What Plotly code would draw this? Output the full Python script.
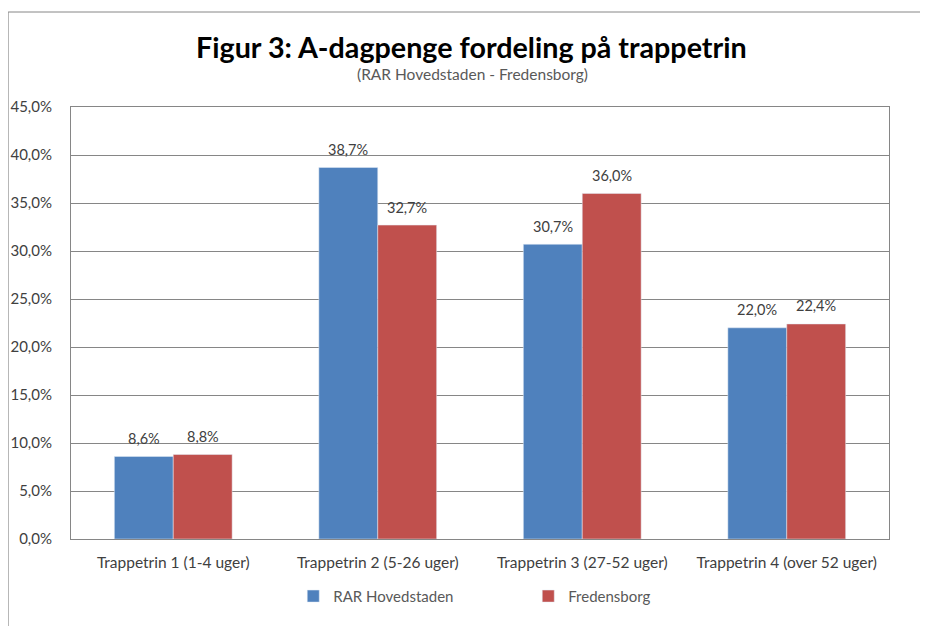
import plotly.graph_objects as go

categories = ["Trappetrin 1 (1-4 uger)", "Trappetrin 2 (5-26 uger)",
              "Trappetrin 3 (27-52 uger)", "Trappetrin 4 (over 52 uger)"]
rar_values = [8.6, 38.7, 30.7, 22.0]
fred_values = [8.8, 32.7, 36.0, 22.4]
series_names = ["RAR Hovedstaden", "Fredensborg"]
ytick_vals = [0, 5, 10, 15, 20, 25, 30, 35, 40, 45]
ytick_labels = ["0,0%", "5,0%", "10,0%", "15,0%", "20,0%", "25,0%",
                "30,0%", "35,0%", "40,0%", "45,0%"]

def fmt(v):
    return f"{v:.1f}".replace(".", ",") + "%"

FONT = "Lato"
TXT = "#404040"
BLUE = "#4F81BD"
RED = "#C0504D"

fig = go.Figure()
fig.add_trace(go.Bar(x=categories, y=rar_values, name=series_names[0],
                     marker=dict(color=BLUE)))
fig.add_trace(go.Bar(x=categories, y=fred_values, name=series_names[1],
                     marker=dict(color=RED)))

# value labels placed with the axis scales (category + value), shifted in pixels
annotations = []
for vals, dx in ((rar_values, -29.5), (fred_values, 29.5)):
    for c, v in zip(categories, vals):
        annotations.append(dict(x=c, y=v, xref="x", yref="y", text=fmt(v),
                                showarrow=False, xanchor="center", yanchor="middle",
                                xshift=dx, yshift=18,
                                font=dict(size=14.5, color=TXT, family=FONT)))

annotations += [
    dict(text="<b>Figur 3: A-dagpenge fordeling på trappetrin</b>", xref="paper", yref="paper",
         x=0.4896, y=1.139, xanchor="center", yanchor="middle", showarrow=False,
         font=dict(size=28.7, color="#000000", family=FONT)),
    dict(text="(RAR Hovedstaden - Fredensborg)", xref="paper", yref="paper",
         x=0.4914, y=1.076, xanchor="center", yanchor="middle", showarrow=False,
         font=dict(size=15.5, color="#595959", family=FONT)),
]

fig.update_layout(
    width=912, height=618,
    margin=dict(l=63, r=31, t=99, b=87),
    paper_bgcolor="white", plot_bgcolor="white",
    barmode="group", bargap=0.424, bargroupgap=0,
    font=dict(family=FONT, color=TXT, size=12),
    showlegend=True,
    legend=dict(orientation="h", x=0.2717, xanchor="left", y=-0.0945, yanchor="top",
                entrywidth=190, itemwidth=30, font=dict(size=15, color="#595959")),
    xaxis=dict(showgrid=False, showline=True, linecolor="#868686", mirror=True,
               ticks="", tickfont=dict(size=15.5, color=TXT), ticklabelstandoff=9,
               automargin=False),
    yaxis=dict(range=[0, 45], tickvals=ytick_vals, ticktext=ytick_labels,
               showgrid=True, gridcolor="#868686", gridwidth=1,
               showline=True, linecolor="#868686", mirror=True,
               ticks="", tickfont=dict(size=15, color=TXT), zeroline=False,
               ticklabelstandoff=15, automargin=False),
    annotations=annotations,
    shapes=[
        dict(type="rect", xref="paper", yref="paper", x0=-0.0769, x1=1.08,
             y0=-0.25, y1=1.2199, line=dict(color="#868686", width=1), layer="below"),
    ],
)

fig.write_html("out.html")
